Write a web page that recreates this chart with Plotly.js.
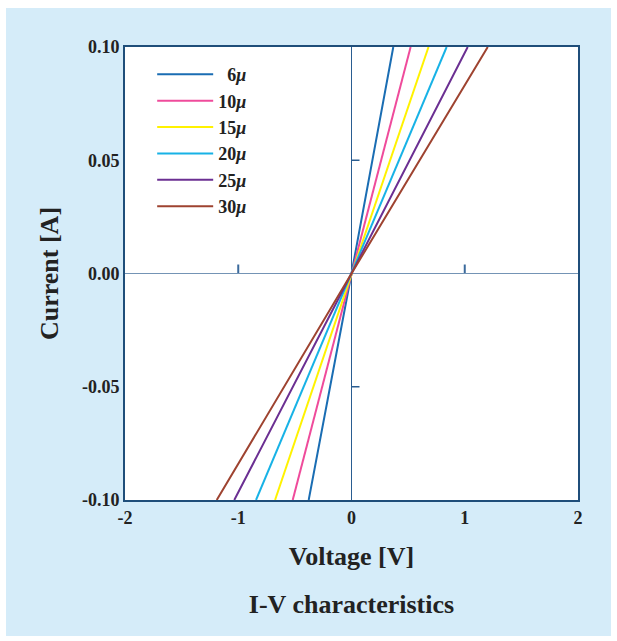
<!DOCTYPE html>
<html>
<head>
<meta charset="utf-8">
<script src="https://cdn.plot.ly/plotly-3.0.1.min.js"></script>
<style>
  html, body { margin: 0; padding: 0; background: #ffffff; }
  #chart { position: absolute; left: 6px; top: 8px; width: 605px; height: 628px; }
</style>
</head>
<body>
<div id="chart"></div>
<script>
// Thickness labels of the samples and the voltage reached at |I| = 0.10 A
const seriesNames = ['\u20076<i>\u03bc</i>', '10<i>\u03bc</i>', '15<i>\u03bc</i>', '20<i>\u03bc</i>', '25<i>\u03bc</i>', '30<i>\u03bc</i>'];
const seriesColors = ['#1a6db3', '#ef4b9b', '#fff200', '#17b2e6', '#6b2f92', '#9e4330'];
const voltNeg = [-0.378, -0.519, -0.675, -0.843, -1.035, -1.190];
const voltPos = [0.369, 0.522, 0.680, 0.840, 1.026, 1.203];
const currentPts = [-0.10, 0.00, 0.10];

const xTickVals = [-2, -1, 0, 1, 2];
const xTickText = ['-2', '-1', '0', '1', '2'];
const yTickVals = [-0.10, -0.05, 0.00, 0.05, 0.10];
const yTickText = ['-0.10', '-0.05', '0.00', '0.05', '0.10'];

// minor marks placed on the zero crosshair
const crossXTicks = [-1, 1];
const crossYTicks = [-0.05, 0.05];

const navy = '#1f4e7a';
const font = 'Liberation Serif, Times New Roman, serif';
const ink = '#222222';

const traces = seriesNames.map((name, i) => ({
  type: 'scatter',
  mode: 'lines',
  name: '<b>' + name + '</b>',
  x: [voltNeg[i], 0, voltPos[i]],
  y: currentPts,
  line: { color: seriesColors[i], width: 2 },
  hoverinfo: 'skip'
}));

const shapes = [
  ...crossXTicks.map(v => ({
    type: 'line', layer: 'below',
    xref: 'x', x0: v, x1: v,
    yref: 'y', ysizemode: 'pixel', yanchor: 0, y0: 0, y1: 9,
    line: { color: '#3b6a9c', width: 2 }
  })),
  ...crossYTicks.map(v => ({
    type: 'line', layer: 'below',
    yref: 'y', y0: v, y1: v,
    xref: 'x', xsizemode: 'pixel', xanchor: 0, x0: 0, x1: 8,
    line: { color: '#2a5d91', width: 1.5 }
  }))
];

const layout = {
  width: 605,
  height: 628,
  paper_bgcolor: '#d5ecf9',
  plot_bgcolor: '#ffffff',
  margin: { l: 119, r: 33, t: 39, b: 136 },
  showlegend: true,
  legend: {
    x: 0.06, y: 0.98, xanchor: 'left', yanchor: 'top',
    bgcolor: 'rgba(0,0,0,0)',
    font: { family: font, size: 18, color: ink },
    traceorder: 'normal',
    itemwidth: 56
  },
  title: {
    text: '<b>I-V characteristics</b>',
    font: { family: font, size: 26, color: ink },
    x: 0.5, xref: 'paper', xanchor: 'center',
    y: 0.051, yref: 'container', yanchor: 'middle'
  },
  xaxis: {
    range: [-2, 2],
    tickvals: xTickVals,
    ticktext: xTickText,
    ticks: '',
    tickfont: { family: font, size: 18, color: ink, weight: 'bold' },
    showgrid: false,
    zeroline: true, zerolinecolor: '#2a5d91', zerolinewidth: 1.5,
    showline: true, mirror: true, linecolor: navy, linewidth: 2,
    title: { text: '<b>Voltage [V]</b>', font: { family: font, size: 26, color: ink }, standoff: 20 }
  },
  yaxis: {
    range: [-0.10, 0.10],
    tickvals: yTickVals,
    ticktext: yTickText,
    ticks: '',
    tickfont: { family: font, size: 18, color: ink, weight: 'bold' },
    showgrid: false,
    zeroline: true, zerolinecolor: '#7494b5', zerolinewidth: 1.5,
    showline: true, mirror: true, linecolor: navy, linewidth: 2,
    title: { text: '<b>Current [A]</b>', font: { family: font, size: 26, color: ink }, standoff: 16 }
  },
  shapes: shapes
};

Plotly.newPlot('chart', traces, layout, { displayModeBar: false, staticPlot: true });
</script>
</body>
</html>
